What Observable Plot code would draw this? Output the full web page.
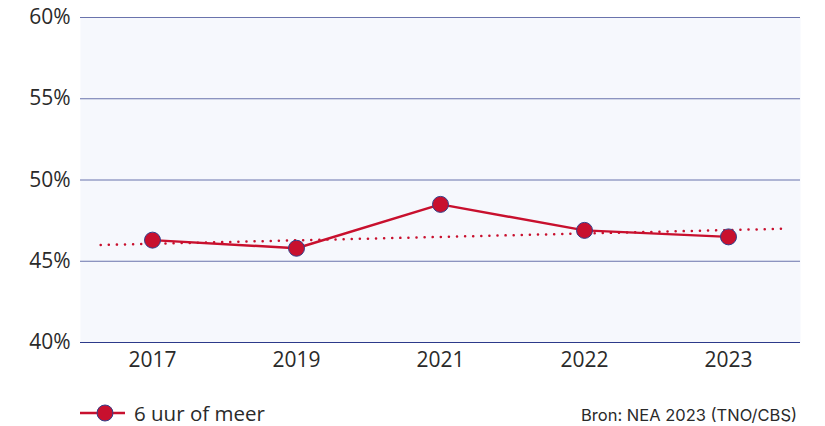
<!DOCTYPE html>
<html><head><meta charset="utf-8">
<script src="https://cdn.jsdelivr.net/npm/d3@7"></script>
<script src="https://cdn.jsdelivr.net/npm/@observablehq/plot@0.6"></script>
<style>
body{margin:0;background:#fff;font-family:"Open Sans",sans-serif;}
#wrap{width:825px;position:relative;}
#legend{position:relative;height:46px;}
#leg1{position:absolute;left:79px;top:21px;height:24px;line-height:24px;display:flex;align-items:center;font-size:20.5px;color:#2a2a2a;}
#src{position:absolute;right:28px;top:26px;line-height:18px;font-size:16.5px;color:#2a2a2a;font-family:Inter,sans-serif;}
</style></head><body>
<div id="wrap"><div id="chart"></div>
<div id="legend"><div id="leg1"><svg width="54" height="24"><line x1="1" y1="12" x2="46" y2="12" stroke="#c8102e" stroke-width="2.5"/><circle cx="26" cy="12" r="8" fill="#c8102e" stroke="#33408a" stroke-width="1"/></svg><span style="margin-left:1px">6 uur of meer</span></div>
<div id="src">Bron: NEA 2023 (TNO/CBS)</div></div></div>
<script>
const years = ["2017","2019","2021","2022","2023"];
const values = [46.3, 45.8, 48.5, 46.9, 46.5];
const trendX = [-0.36, 4.38];
const trendY = [46.0, 47.0];
const yTicks = [40, 45, 50, 55, 60];

const data = years.map((y,i)=>({i, year:y, v:values[i]}));
const trend = trendX.map((x,i)=>({x, v:trendY[i]}));

const chart = Plot.plot({
  width: 825, height: 380,
  marginLeft: 80, marginRight: 25, marginTop: 17, marginBottom: 38,
  style: {fontFamily: '"Open Sans", sans-serif', fontSize: "21px", color: "#2a2a2a", background: "transparent", overflow: "visible"},
  x: {domain: [-0.5, 4.5], axis: null},
  y: {domain: [40, 60], axis: null},
  marks: [
    Plot.frame({fill: "#f6f8fd", stroke: null}),
    Plot.ruleY(yTicks.slice(1), {stroke: "#3a4590", strokeOpacity: 0.75, strokeWidth: 1}),
    Plot.ruleY([40], {stroke: "#2c3a8a", strokeWidth: 1.2}),
    Plot.axisY({ticks: yTicks, tickSize: 0, tickPadding: 10, tickFormat: d => d + "%", label: null, fontSize: 21}),
    Plot.axisX({ticks: [0,1,2,3,4], tickSize: 0, tickPadding: 10, tickFormat: i => years[i], label: null, fontSize: 21}),
    Plot.line(trend, {x: "x", y: "v", stroke: "#c8102e", strokeWidth: 2.5, strokeDasharray: "0.1 8", strokeLinecap: "round"}),
    Plot.line(data, {x: "i", y: "v", stroke: "#c8102e", strokeWidth: 2.5}),
    Plot.dot(data, {x: "i", y: "v", r: 8, fill: "#c8102e", stroke: "#33408a", strokeWidth: 1})
  ]
});
document.getElementById("chart").appendChild(chart);
</script>
</body></html>
